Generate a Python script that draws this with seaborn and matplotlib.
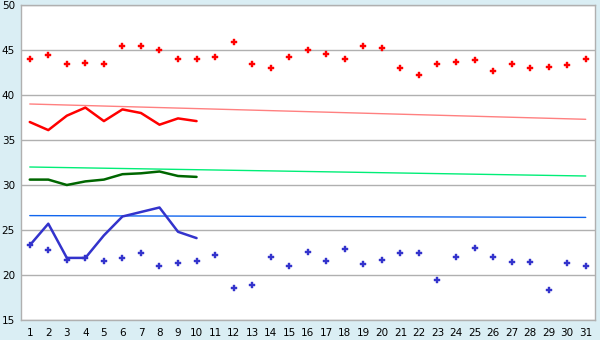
import matplotlib
matplotlib.use("Agg")
import matplotlib.pyplot as plt
import seaborn as sns
import numpy as np
import pandas as pd

days = list(range(1, 32))
max_temp = [44.0, 44.4, 43.5, 43.6, 43.4, 45.4, 45.5, 45.0, 44.0, 44.0,
            44.2, 45.9, 43.5, 43.0, 44.2, 45.0, 44.6, 44.0, 45.4, 45.2,
            43.0, 42.2, 43.5, 43.7, 43.85, 42.7, 43.4, 43.0, 43.1, 43.3, 44.0]
min_temp = [23.3, 22.75, 21.7, 21.9, 21.6, 21.85, 22.4, 21.0, 21.3, 21.55,
            22.2, 18.6, 18.85, 22.0, 21.0, 22.6, 21.6, 22.85, 21.2, 21.7,
            22.4, 22.5, 19.4, 22.0, 23.0, 22.0, 21.5, 21.5, 18.3, 21.3, 21.0]
days10 = list(range(1, 11))
max_line = [37.0, 36.1, 37.7, 38.6, 37.1, 38.4, 38.0, 36.7, 37.4, 37.1]
mean_line = [30.6, 30.6, 30.0, 30.4, 30.6, 31.2, 31.3, 31.5, 31.0, 30.9]
min_line = [23.3, 25.7, 21.9, 21.9, 24.4, 26.5, 27.0, 27.5, 24.8, 24.1]
trend_days = [1, 31]
max_trend = [39.0, 37.3]
mean_trend = [32.0, 31.0]
min_trend = [26.6, 26.4]
yticks = [15, 20, 25, 30, 35, 40, 45, 50]

sns.set_style("white")
plt.rcParams['font.family'] = ['DejaVu Sans']

fig = plt.figure(figsize=(6, 3.4), dpi=100)
fig.patch.set_facecolor('#DAEEF4')
ax = fig.add_axes([20.5/600, 20/340, 574.5/600, 315/340])
ax.set_facecolor('white')

sns.lineplot(x=trend_days, y=max_trend, ax=ax, color='#FF8080', linewidth=1)
sns.lineplot(x=trend_days, y=mean_trend, ax=ax, color='#00EE77', linewidth=1)
sns.lineplot(x=trend_days, y=min_trend, ax=ax, color='#1166EE', linewidth=1)
sns.lineplot(x=days10, y=max_line, ax=ax, color='#FF0000', linewidth=1.8)
sns.lineplot(x=days10, y=mean_line, ax=ax, color='#006600', linewidth=1.8)
sns.lineplot(x=days10, y=min_line, ax=ax, color='#3333CC', linewidth=1.8)
sns.scatterplot(x=days, y=max_temp, ax=ax, color='#FF0000', marker='P', s=18, linewidth=0.3,
                edgecolor='#FF0000')
sns.scatterplot(x=days, y=min_temp, ax=ax, color='#3333CC', marker='P', s=18, linewidth=0.3,
                edgecolor='#3333CC')

ax.set_xlim(0.5, 31.5)
ax.set_ylim(15, 50)
ax.set_xticks(days)
ax.set_yticks(yticks)
ax.yaxis.grid(True, color='#B0B0B0', linewidth=1)
ax.set_axisbelow(True)
for s in ax.spines.values():
    s.set_color('#B0B0B0')
    s.set_linewidth(1)
ax.tick_params(axis='x', direction='out', length=4, width=1, color='#404040',
               labelsize=7.5, labelcolor='black', pad=2)
ax.tick_params(axis='y', direction='out', length=3, width=1, color='#A0A0A0',
               labelsize=7.5, labelcolor='black', pad=1)
plt.savefig('out.png', dpi=100, facecolor=fig.get_facecolor())
